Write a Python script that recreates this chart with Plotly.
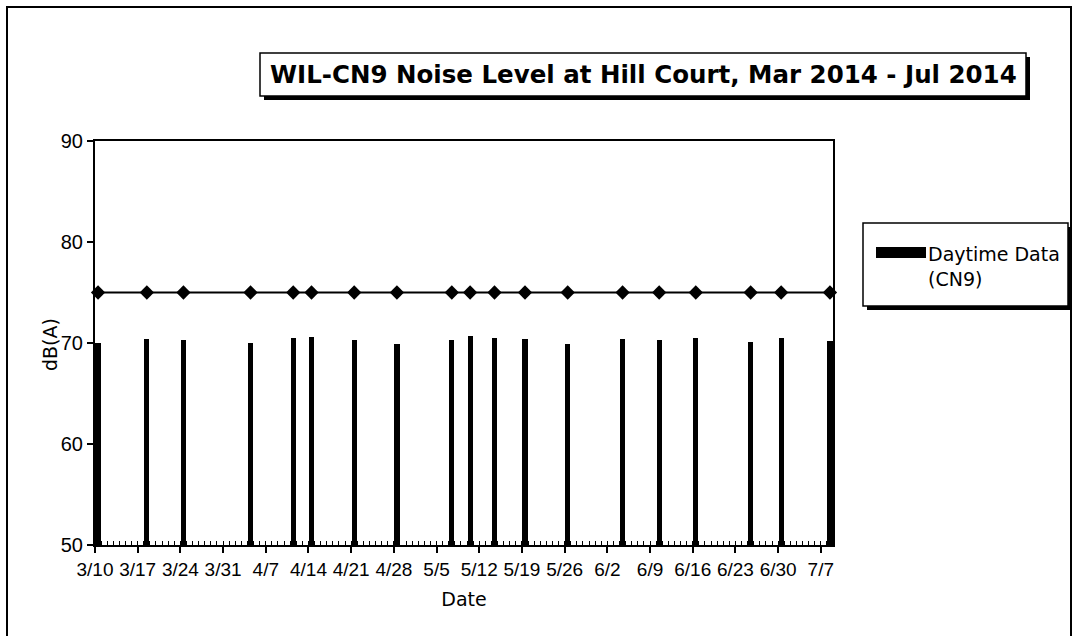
import plotly.graph_objects as go

# ---------------- data ----------------
dates = ["2014-03-10", "2014-03-18", "2014-03-24", "2014-04-04", "2014-04-11",
         "2014-04-14", "2014-04-21", "2014-04-28", "2014-05-07", "2014-05-10",
         "2014-05-14", "2014-05-19", "2014-05-26", "2014-06-04", "2014-06-10",
         "2014-06-16", "2014-06-25", "2014-06-30", "2014-07-08"]
daytime_db = [70.0, 70.4, 70.3, 70.0, 70.5, 70.6, 70.3, 69.9, 70.3, 70.7,
              70.5, 70.4, 69.9, 70.4, 70.3, 70.5, 70.1, 70.5, 70.2]
limit_db = [75.0] * len(dates)

title_text = "WIL-CN9 Noise Level at Hill Court, Mar 2014 - Jul 2014"
legend_text = "Daytime Data<br>(CN9)"
x_title = "Date"
y_title = "dB(A)"
x_range = ["2014-03-10", "2014-07-09"]
y_range = [50, 90]

# ---------------- layout geometry ----------------
W, H = 1078, 636
L, R, T, B = 95, 833, 141, 545
DAY = 86400000


def px(p):
    return (p - L) / (R - L)


def py(p):
    return (B - p) / (B - T)


fig = go.Figure()

fig.add_trace(go.Bar(
    x=dates, y=daytime_db, name="Daytime Data (CN9)",
    marker=dict(color="black", line=dict(width=0)),
    width=0.85 * DAY, xperiod=DAY, xperiodalignment="middle",
    showlegend=False,
))

fig.add_trace(go.Scatter(
    x=dates, y=limit_db, mode="lines+markers",
    line=dict(color="black", width=2),
    marker=dict(symbol="diamond", size=11, color="black"),
    xperiod=DAY, xperiodalignment="middle",
    showlegend=False, cliponaxis=False,
))

shapes = []
# outer frame
shapes.append(dict(type="rect", xref="paper", yref="paper",
                   x0=px(7), x1=px(1071), y0=py(650), y1=py(7),
                   line=dict(color="black", width=2), fillcolor="rgba(0,0,0,0)"))
# title box shadow + box
shapes.append(dict(type="rect", xref="paper", yref="paper",
                   x0=px(264), x1=px(1030), y0=py(100), y1=py(57),
                   line=dict(width=0), fillcolor="black"))
shapes.append(dict(type="rect", xref="paper", yref="paper",
                   x0=px(260), x1=px(1026), y0=py(96), y1=py(53),
                   line=dict(color="black", width=1.5), fillcolor="white"))
# legend box shadow + box
shapes.append(dict(type="rect", xref="paper", yref="paper",
                   x0=px(867), x1=px(1072), y0=py(310), y1=py(227),
                   line=dict(width=0), fillcolor="black"))
shapes.append(dict(type="rect", xref="paper", yref="paper",
                   x0=px(863), x1=px(1068), y0=py(306), y1=py(223),
                   line=dict(color="black", width=1.5), fillcolor="white"))
# legend symbol
shapes.append(dict(type="rect", xref="paper", yref="paper",
                   x0=px(876), x1=px(926), y0=py(258), y1=py(247),
                   line=dict(width=0), fillcolor="black"))

annotations = [
    dict(text="<b>" + title_text + "</b>", xref="paper", yref="paper",
         x=px(643), y=py(74), xanchor="center", yanchor="middle", showarrow=False,
         font=dict(family="DejaVu Sans", size=24.5, color="black")),
    dict(text=legend_text, xref="paper", yref="paper", x=px(926), y=py(266),
         xanchor="left", yanchor="middle", showarrow=False, align="left",
         font=dict(family="DejaVu Sans", size=19, color="black")),
    dict(text=y_title, xref="paper", yref="paper", x=px(50), y=py(345),
         xanchor="center", yanchor="middle", showarrow=False, textangle=-90,
         font=dict(family="DejaVu Sans", size=19, color="black")),
]

fig.update_layout(
    width=W, height=H,
    margin=dict(l=L, r=W - R, t=T, b=H - B, pad=0),
    paper_bgcolor="white", plot_bgcolor="white",
    bargap=0, showlegend=False,
    shapes=shapes, annotations=annotations,
    font=dict(family="Liberation Sans", size=19, color="black"),
)

fig.update_xaxes(
    type="date", range=x_range, tickformat="%-m/%-d",
    tick0="2014-03-10", dtick=7 * DAY, tickangle=0,
    ticks="outside", ticklen=6, tickwidth=2, tickcolor="black",
    minor=dict(dtick=DAY, tick0="2014-03-10", ticks="inside", ticklen=4,
               tickwidth=1, tickcolor="black", showgrid=False),
    showline=True, linecolor="black", linewidth=2, mirror=True,
    showgrid=False, zeroline=False,
    tickfont=dict(family="Liberation Sans", size=19, color="black"),
    title=dict(text=x_title, standoff=14,
               font=dict(family="DejaVu Sans", size=19, color="black")),
)

fig.update_yaxes(
    range=y_range, dtick=10, tick0=50,
    ticks="outside", ticklen=6, tickwidth=2, tickcolor="black",
    showline=True, linecolor="black", linewidth=2, mirror=True,
    showgrid=False, zeroline=False,
    tickfont=dict(family="Liberation Sans", size=20, color="black"),
)

fig.write_html("out.html", config={"displayModeBar": False},
               post_script="document.body.style.margin='0';")
